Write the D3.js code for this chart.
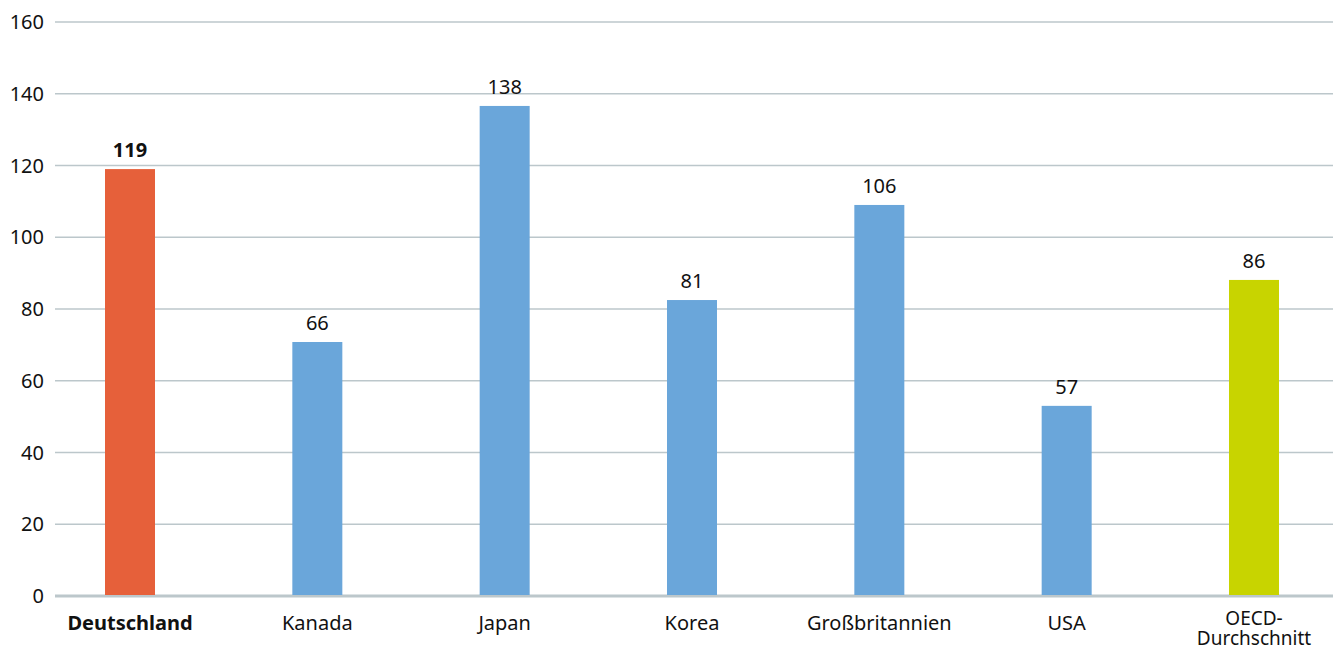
<!DOCTYPE html>
<html>
<head>
<meta charset="utf-8">
<script src="https://cdn.jsdelivr.net/npm/d3@7"></script>
<style>
  body { margin: 0; background: #fff; }
  svg { display: block; font-family: "Noto Sans", sans-serif; }
</style>
</head>
<body>
<svg id="chart"></svg>
<script>
// categories, bar heights as drawn, and the printed value labels
const categories = ["Deutschland", "Kanada", "Japan", "Korea", "Großbritannien", "USA", "OECD-Durchschnitt"];
const barValues = [119, 70.8, 136.6, 82.5, 109, 53, 88.1];
const valueLabels = ["119", "66", "138", "81", "106", "57", "86"];
const yTicks = [0, 20, 40, 60, 80, 100, 120, 140, 160];

const width = 1335, height = 652;
const plotLeft = 55, plotRight = 1333, plotTop = 22, plotBottom = 596;
const barWidth = 50;

const barColor = (d, i) => {
  if (i === 0) return "#e6603a";
  if (i === categories.length - 1) return "#c8d400";
  return "#6aa6da";
};

const svg = d3.select("#chart")
  .attr("width", width)
  .attr("height", height);

const x = d3.scalePoint()
  .domain(categories)
  .range([130, 1254]);

const y = d3.scaleLinear()
  .domain([0, 160])
  .range([plotBottom, plotTop]);

// gridlines + tick labels

const grid = svg.append("g").attr("class", "grid");

grid.selectAll("line")
  .data(yTicks)
  .enter().append("line")
  .attr("x1", plotLeft)
  .attr("x2", plotRight)
  .attr("y1", (d) => y(d))
  .attr("y2", (d) => y(d))
  .attr("stroke", "#bcc7cb")
  .attr("stroke-width", (d) => d === 0 ? 3 : 1.6);

grid.selectAll("text")
  .data(yTicks)
  .enter().append("text")
  .attr("x", 44)
  .attr("y", (d) => y(d))
  .attr("dy", "0.35em")
  .attr("text-anchor", "end")
  .attr("font-size", 20)
  .attr("fill", "#111")
  .text((d) => d);

// bars

svg.append("g").attr("class", "bars")
  .selectAll("rect")
  .data(barValues)
  .enter().append("rect")
  .attr("x", (d, i) => x(categories[i]) - barWidth / 2)
  .attr("y", (d) => y(d))
  .attr("width", barWidth)
  .attr("height", (d) => y(0) - y(d) - 1)
  .attr("fill", barColor);

// value labels

svg.append("g").attr("class", "values")
  .selectAll("text")
  .data(barValues)
  .enter().append("text")
  .attr("x", (d, i) => x(categories[i]))
  .attr("y", (d) => y(d) - 12)
  .attr("text-anchor", "middle")
  .attr("font-size", 20)
  .attr("font-weight", (d, i) => i === 0 ? "bold" : "normal")
  .attr("fill", "#111")
  .text((d, i) => valueLabels[i]);

// category labels

const cats = svg.append("g").attr("class", "categories")
  .selectAll("text")
  .data(categories)
  .enter().append("text")
  .attr("x", (d) => x(d))
  .attr("y", 630)
  .attr("text-anchor", "middle")
  .attr("font-size", 20)
  .attr("font-weight", (d, i) => i === 0 ? "bold" : "normal")
  .attr("fill", "#111");

cats.each(function (d) {
  const parts = d === "OECD-Durchschnitt" ? ["OECD-", "Durchschnitt"] : [d];
  const t = d3.select(this);
  if (parts.length > 1) t.attr("font-size", 19);
  parts.forEach((p, j) => {
    t.append("tspan")
      .attr("x", x(d))
      .attr("dy", j === 0 ? (parts.length > 1 ? -5 : 0) : 20)
      .text(p);
  });
});
</script>
</body>
</html>
